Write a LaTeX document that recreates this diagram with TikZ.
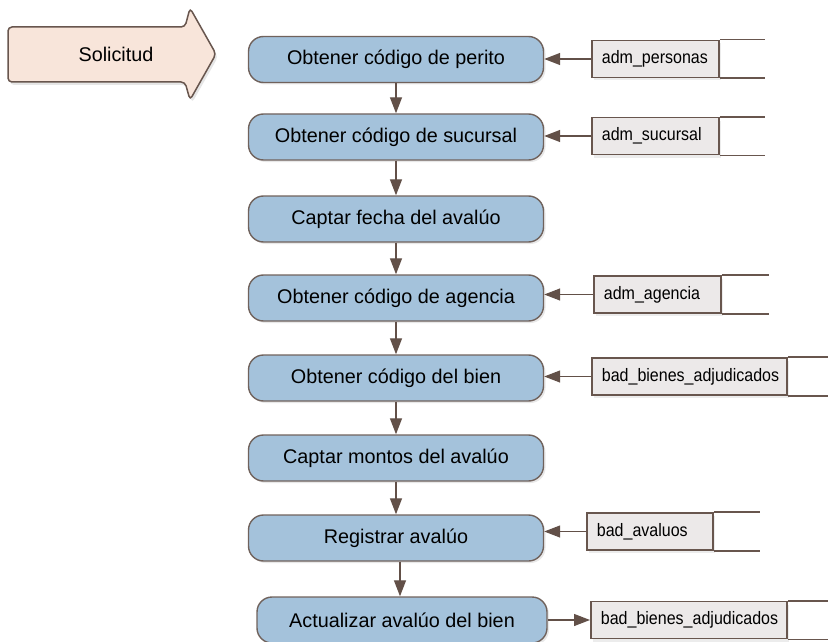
\documentclass[tikz,border=0pt]{standalone}
\usepackage{fontspec}
\setmainfont{Liberation Sans}
\newfontfamily\tblfont[FakeStretch=0.89]{Liberation Sans}
\usetikzlibrary{arrows.meta,shadows}

\definecolor{procfill}{RGB}{164,194,219}
\definecolor{procline}{RGB}{112,98,92}
\definecolor{arrowcol}{RGB}{98,80,72}
\definecolor{tablefill}{RGB}{236,233,233}
\definecolor{tableline}{RGB}{104,86,78}
\definecolor{solfill}{RGB}{248,229,218}

\tikzset{
  proc/.style={draw=procline, fill=procfill, line width=1.4pt, rounded corners=15pt,
    minimum width=295pt, minimum height=46pt, inner sep=0pt,
    font=\fontsize{19.8}{22}\selectfont,
    drop shadow={shadow xshift=2pt, shadow yshift=-2pt, opacity=0.18}},
  tbl/.style={draw=tableline, fill=tablefill, line width=1.8pt, anchor=west,
    minimum height=37pt, inner xsep=10pt, inner ysep=0pt, text width=#1, align=left,
    font=\tblfont\fontsize{18}{20}\selectfont,
    drop shadow={shadow xshift=2pt, shadow yshift=-3pt, opacity=0.15}},
  tblopen/.style={draw=tableline, line width=1.8pt},
  flow/.style={draw=arrowcol, line width=1.3pt, -{Triangle[length=16pt,width=12pt]}},
}

\begin{document}
\begin{tikzpicture}[x=1pt,y=-1pt]
\useasboundingbox (0,0) rectangle (828,642);
\clip (0,0) rectangle (828,642);
% Solicitud arrow
\filldraw[draw=tableline, fill=solfill, line width=1.5pt, rounded corners=4pt,
  drop shadow={shadow xshift=2pt, shadow yshift=-3pt, opacity=0.2}]
  (8,27) -- (185,27) -- (190,8) -- (216,54) -- (190,100) -- (185,82) -- (8,82) -- cycle;
\node[font=\fontsize{19.8}{22}\selectfont] (sol) at (116,54) {Solicitud};
% process steps
\node[proc] (b1) at (396,59.5) {Obtener código de perito};
\node[proc] (b2) at (396,137) {Obtener código de sucursal};
\node[proc] (b3) at (396,219) {Captar fecha del avalúo};
\node[proc] (b4) at (396,298) {Obtener código de agencia};
\node[proc] (b5) at (396,378) {Obtener código del bien};
\node[proc] (b6) at (396,458) {Captar montos del avalúo};
\node[proc] (b7) at (396,538) {Registrar avalúo};
\node[proc, minimum width=290pt] (b8) at (402,620) {Actualizar avalúo del bien};
% flow
\foreach \a/\b in {b1/b2,b2/b3,b3/b4,b4/b5,b5/b6,b6/b7}
  \draw[flow] (\a) -- (\b);
\draw[flow] ([xshift=4pt]b7.south) -- ([xshift=4pt]b7.south |- b8.north);
% tables
\node[tbl=107pt] (t1) at (591,59) {adm\_personas};
\node[tbl=107pt] (t2) at (591,136) {adm\_sucursal};
\node[tbl=107pt] (t3) at (593,294.5) {adm\_agencia};
\node[tbl=175pt] (t4) at (591,376.5) {bad\_bienes\_adjudicados};
\node[tbl=106pt] (t5) at (586,531.5) {bad\_avaluos};
\node[tbl=176pt] (t6) at (590,620) {bad\_bienes\_adjudicados};
\foreach \t/\len in {t1/45,t2/45,t3/47,t4/70,t5/46,t6/70}
  \draw[tblopen] (\t.north east) -- ++(\len,0) (\t.south east) -- ++(\len,0);
% reads and writes
\foreach \t/\b in {t1/b1,t2/b2,t3/b4,t4/b5,t5/b7}
  \draw[flow] (\t) -- (\t -| \b.east);
\draw[flow] (b8) -- (b8 -| t6.west);
\end{tikzpicture}
\end{document}
